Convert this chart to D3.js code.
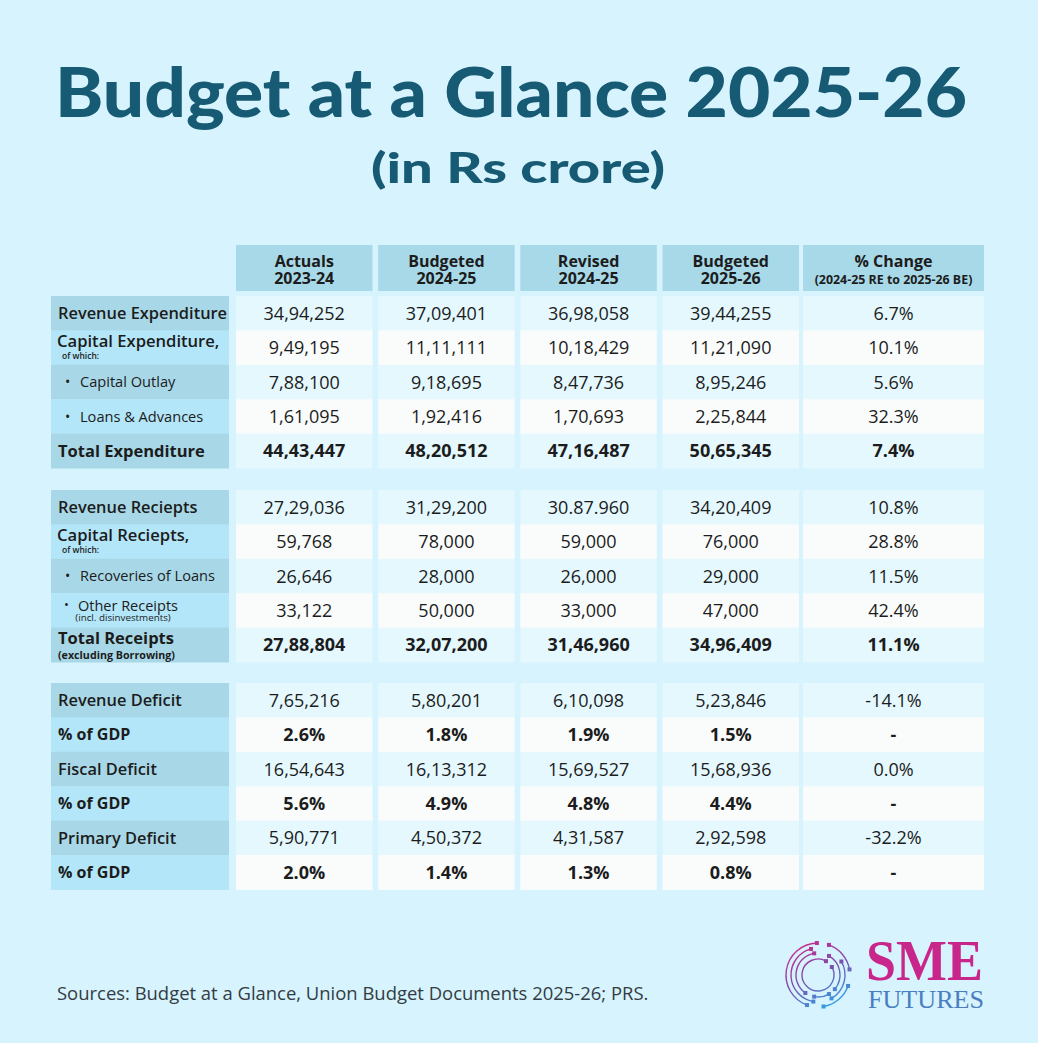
<!DOCTYPE html>
<html>
<head>
<meta charset="utf-8">
<script src="https://cdn.jsdelivr.net/npm/d3@7"></script>
<style>
  html, body { margin: 0; padding: 0; background: #d6f3fe; }
  svg { display: block; }
</style>
</head>
<body>
<svg id="chart" width="1038" height="1043"></svg>
<script>
// ---------------- DATA ----------------
const titleText = "Budget at a Glance 2025-26";
const subtitleText = "(in Rs crore)";
const headerTop = ["Actuals", "Budgeted", "Revised", "Budgeted", "% Change"];
const headerBottom = ["2023-24", "2024-25", "2024-25", "2025-26", "(2024-25 RE to 2025-26 BE)"];

const expenditureLabels = ["Revenue Expenditure", "Capital Expenditure,", "Capital Outlay", "Loans & Advances", "Total Expenditure"];
const receiptLabels = ["Revenue Reciepts", "Capital Reciepts,", "Recoveries of Loans", "Other Receipts", "Total Receipts"];
const deficitLabels = ["Revenue Deficit", "% of GDP", "Fiscal Deficit", "% of GDP", "Primary Deficit", "% of GDP"];

const expenditureKinds = ["main", "sub", "bullet", "bullet", "total"];
const receiptKinds = ["main", "sub", "bullet", "bulletNote", "totalNote"];
const deficitKinds = ["main", "pct", "main", "pct", "main", "pct"];

const expenditureNotes = ["", "of which:", "", "", ""];
const receiptNotes = ["", "of which:", "", "(incl. disinvestments)", "(excluding Borrowing)"];
const deficitNotes = ["", "", "", "", "", ""];

const actuals2023_24   = ["34,94,252", "9,49,195", "7,88,100", "1,61,095", "44,43,447",
                          "27,29,036", "59,768", "26,646", "33,122", "27,88,804",
                          "7,65,216", "2.6%", "16,54,643", "5.6%", "5,90,771", "2.0%"];
const budgeted2024_25  = ["37,09,401", "11,11,111", "9,18,695", "1,92,416", "48,20,512",
                          "31,29,200", "78,000", "28,000", "50,000", "32,07,200",
                          "5,80,201", "1.8%", "16,13,312", "4.9%", "4,50,372", "1.4%"];
const revised2024_25   = ["36,98,058", "10,18,429", "8,47,736", "1,70,693", "47,16,487",
                          "30.87.960", "59,000", "26,000", "33,000", "31,46,960",
                          "6,10,098", "1.9%", "15,69,527", "4.8%", "4,31,587", "1.3%"];
const budgeted2025_26  = ["39,44,255", "11,21,090", "8,95,246", "2,25,844", "50,65,345",
                          "34,20,409", "76,000", "29,000", "47,000", "34,96,409",
                          "5,23,846", "1.5%", "15,68,936", "4.4%", "2,92,598", "0.8%"];
const pctChange        = ["6.7%", "10.1%", "5.6%", "32.3%", "7.4%",
                          "10.8%", "28.8%", "11.5%", "42.4%", "11.1%",
                          "-14.1%", "-", "0.0%", "-", "-32.2%", "-"];

const sourceText = "Sources: Budget at a Glance, Union Budget Documents 2025-26; PRS.";

// ---------------- LAYOUT ----------------
const svg = d3.select("#chart");
const W = 1038, H = 1043;
const C = {
  bg: "#d6f3fe", title: "#175a73", header: "#a8d9e8",
  labelDark: "#a8d8e7", labelLight: "#b3e6f8",
  cellBlue: "#e4f8fe", cellWhite: "#fafcfc", text: "#1c1c1c", source: "#333c42"
};
svg.append("rect").attr("width", W).attr("height", H).attr("fill", C.bg);

// Title
svg.append("text").text(titleText)
  .attr("x", 511).attr("y", 117).attr("text-anchor", "middle")
  .attr("font-family", "Lato").attr("font-weight", 900).attr("font-size", 68)
  .attr("fill", C.title).attr("textLength", 912).attr("lengthAdjust", "spacingAndGlyphs");
svg.append("text").text(subtitleText)
  .attr("x", 518).attr("y", 183).attr("text-anchor", "middle")
  .attr("font-family", "Lato").attr("font-weight", 900).attr("font-size", 42)
  .attr("fill", C.title).attr("textLength", 294).attr("lengthAdjust", "spacingAndGlyphs");

// Columns
const valueColumns = [actuals2023_24, budgeted2024_25, revised2024_25, budgeted2025_26];
const colKeys = d3.range(valueColumns.length);
const x = d3.scaleBand().domain(colKeys).range([236, 799]).paddingInner(0.04);
const labelX0 = 51, labelW = 178;
const pctX0 = 803, pctW = 181;
const colLeft = i => i < 4 ? x(i) : pctX0;
const colWidth = i => i < 4 ? x.bandwidth() : pctW;
const allCols = d3.range(5);

// Header
const headerY0 = 245, headerH = 46;
const hdr = svg.append("g");
hdr.selectAll("rect").data(allCols).join("rect")
  .attr("x", colLeft).attr("y", headerY0).attr("width", colWidth).attr("height", headerH)
  .attr("fill", C.header);
hdr.selectAll("text.t").data(allCols).join("text").attr("class", "t")
  .attr("x", i => colLeft(i) + colWidth(i) / 2).attr("y", 267)
  .attr("text-anchor", "middle").attr("font-family", "Open Sans").attr("font-weight", 700)
  .attr("font-size", 16).attr("fill", C.text).text(i => headerTop[i]);
hdr.selectAll("text.b").data(allCols).join("text").attr("class", "b")
  .attr("x", i => colLeft(i) + colWidth(i) / 2).attr("y", 284)
  .attr("text-anchor", "middle").attr("font-family", "Open Sans").attr("font-weight", 700)
  .attr("font-size", i => i < 4 ? 16 : 12.4).attr("fill", C.text).text(i => headerBottom[i]);

// Sections
const sections = [
  { labels: expenditureLabels, kinds: expenditureKinds, notes: expenditureNotes, top: 296, offset: 0 },
  { labels: receiptLabels, kinds: receiptKinds, notes: receiptNotes, top: 490, offset: 5 },
  { labels: deficitLabels, kinds: deficitKinds, notes: deficitNotes, top: 683, offset: 10 }
];
const rowH = 34.4;

sections.forEach(sec => {
  const n = sec.labels.length;
  const y = d3.scaleBand().domain(d3.range(n)).range([sec.top, sec.top + n * rowH]).paddingInner(0);
  const g = svg.append("g");
  const rows = d3.range(n);

  // label cells
  g.selectAll("rect.lab").data(rows).join("rect").attr("class", "lab")
    .attr("x", labelX0).attr("y", r => y(r)).attr("width", labelW).attr("height", y.bandwidth() + 0.5)
    .attr("fill", r => r % 2 === 0 ? C.labelDark : C.labelLight);

  // value cells
  rows.forEach(r => {
    allCols.forEach(c => {
      g.append("rect").attr("x", colLeft(c)).attr("y", y(r))
        .attr("width", colWidth(c)).attr("height", y.bandwidth() + 0.5)
        .attr("fill", r % 2 === 0 ? C.cellBlue : C.cellWhite);
      const col = c < 4 ? valueColumns[c] : pctChange;
      const kind = sec.kinds[r];
      const bold = kind.startsWith("total") || kind === "pct";
      g.append("text").text(col[sec.offset + r])
        .attr("x", colLeft(c) + colWidth(c) / 2).attr("y", y(r) + y.bandwidth() / 2 + 6.5)
        .attr("text-anchor", "middle").attr("font-family", "Open Sans")
        .attr("font-weight", bold ? 700 : 400).attr("font-size", 18).attr("fill", C.text);
    });
  });

  // labels
  rows.forEach(r => {
    const kind = sec.kinds[r];
    const top = y(r), mid = top + y.bandwidth() / 2;
    const t = g.append("text").attr("font-family", "Open Sans").attr("fill", C.text);
    if (kind === "main") {
      t.attr("x", 58).attr("y", mid + 5.8).attr("font-weight", 600).attr("font-size", 16.4).text(sec.labels[r]);
    } else if (kind === "pct") {
      t.attr("x", 58).attr("y", mid + 5.8).attr("font-weight", 700).attr("font-size", 16).text(sec.labels[r]);
    } else if (kind === "total") {
      t.attr("x", 58).attr("y", mid + 5.8).attr("font-weight", 700).attr("font-size", 16.5).text(sec.labels[r]);
    } else if (kind === "sub") {
      t.attr("x", 57).attr("y", top + 17).attr("font-weight", 600).attr("font-size", 16.6).text(sec.labels[r]);
      g.append("text").attr("x", 62).attr("y", top + 29).attr("font-family", "Open Sans")
        .attr("font-weight", 600).attr("font-size", 8.5).attr("fill", C.text).text(sec.notes[r]);
    } else if (kind === "bullet") {
      g.append("text").attr("x", 65).attr("y", mid + 5.2).attr("font-family", "Open Sans")
        .attr("font-size", 14).attr("fill", C.text).text("•");
      t.attr("x", 80).attr("y", mid + 5.4).attr("font-weight", 400).attr("font-size", 14.6).text(sec.labels[r]);
    } else if (kind === "bulletNote") {
      g.append("text").attr("x", 64).attr("y", top + 15.5).attr("font-family", "Open Sans")
        .attr("font-size", 13).attr("fill", C.text).text("•");
      t.attr("x", 78).attr("y", top + 18).attr("font-weight", 400).attr("font-size", 14.5).text(sec.labels[r]);
      g.append("text").attr("x", 123).attr("y", top + 28).attr("text-anchor", "middle")
        .attr("font-family", "Open Sans").attr("font-weight", 400).attr("font-size", 9.8)
        .attr("fill", C.text).text(sec.notes[r]);
    } else if (kind === "totalNote") {
      t.attr("x", 58).attr("y", top + 16).attr("font-weight", 700).attr("font-size", 16.5).text(sec.labels[r]);
      g.append("text").attr("x", 58).attr("y", top + 31).attr("font-family", "Open Sans")
        .attr("font-weight", 700).attr("font-size", 10.7).attr("fill", C.text).text(sec.notes[r]);
    }
  });
});

// Source
svg.append("text").text(sourceText).attr("x", 57).attr("y", 1000)
  .attr("font-family", "Open Sans").attr("font-weight", 500).attr("font-size", 18.45)
  .attr("fill", C.source);

// Logo
const defs = svg.append("defs");
const grad = defs.append("linearGradient").attr("id", "logoGrad")
  .attr("gradientUnits", "userSpaceOnUse").attr("x1", 800).attr("y1", 942).attr("x2", 835).attr("y2", 1008);
grad.append("stop").attr("offset", "0%").attr("stop-color", "#d0268a");
grad.append("stop").attr("offset", "50%").attr("stop-color", "#7a50b0");
grad.append("stop").attr("offset", "100%").attr("stop-color", "#2aa8e8");
const cx = 818, cy = 975;
const arcs = [
  [32, 200, 358], [32, 20, 80], [32, 110, 170],
  [27, 190, 345], [27, 60, 150],
  [22, 215, 350], [22, 30, 130], [22, 150, 190],
  [16, 60, 390]
];
const logo = svg.append("g");
const deg = d => (d - 90) * Math.PI / 180;
arcs.forEach(([r, a0, a1]) => {
  const p = d3.path();
  p.arc(cx, cy, r, deg(a0), deg(a1));
  logo.append("path").attr("d", p.toString()).attr("fill", "none")
    .attr("stroke", "url(#logoGrad)").attr("stroke-width", 1.4);
  [a0, a1].forEach(a => {
    logo.append("rect").attr("x", cx + r * Math.cos(deg(a)) - 2).attr("y", cy + r * Math.sin(deg(a)) - 2)
      .attr("width", 4).attr("height", 4).attr("fill", "url(#logoGrad)");
  });
});
svg.append("text").text("SME").attr("x", 866).attr("y", 980)
  .attr("font-family", "Liberation Serif").attr("font-weight", 700).attr("font-size", 56)
  .attr("fill", "#c8268a").attr("textLength", 117).attr("lengthAdjust", "spacingAndGlyphs");
svg.append("text").text("FUTURES").attr("x", 868).attr("y", 1008)
  .attr("font-family", "Liberation Serif").attr("font-weight", 400).attr("font-size", 26)
  .attr("fill", "#4a7ec0").attr("textLength", 116).attr("lengthAdjust", "spacingAndGlyphs");
</script>
</body>
</html>
